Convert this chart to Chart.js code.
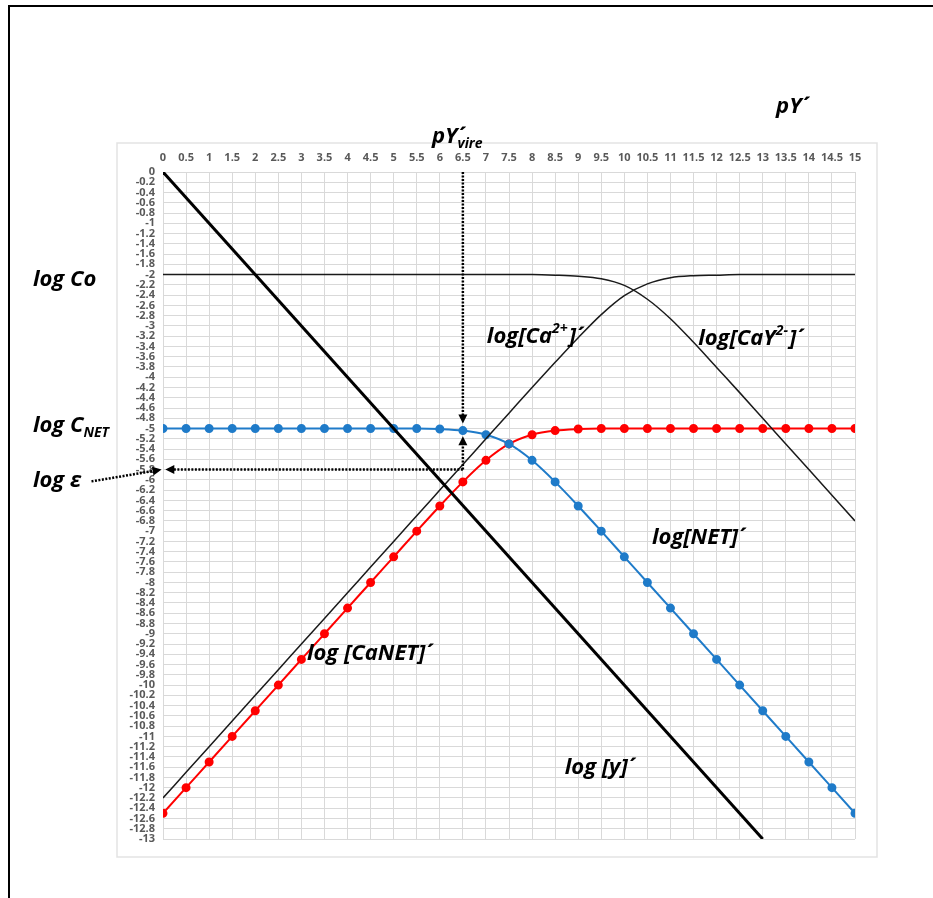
<!DOCTYPE html>
<html>
<head>
<meta charset="utf-8">
<script src="https://cdn.jsdelivr.net/npm/chart.js@4.4.0/dist/chart.umd.min.js"></script>
<style>
  html, body { margin: 0; padding: 0; background: #fff; overflow: hidden; }
  #frame { position: absolute; left: 8px; top: 5px; width: 960px; height: 960px; border: 2px solid #000; }
  canvas { position: absolute; left: 0; top: 0; }
</style>
</head>
<body>
<div id="frame"></div>
<canvas id="chart" width="933" height="898"></canvas>
<script>
// pY' values (x axis), one point every 0.5
const pY = [0, 0.5, 1, 1.5, 2, 2.5, 3, 3.5, 4, 4.5, 5, 5.5, 6, 6.5, 7, 7.5,
            8, 8.5, 9, 9.5, 10, 10.5, 11, 11.5, 12, 12.5, 13, 13.5, 14, 14.5, 15];

// log[NET]' (blue)
const logNET = [-5, -5, -5, -5, -5, -5, -5, -5, -5, -5, -5, -5, -5.01, -5.04, -5.12, -5.30,
                -5.62, -6.04, -6.51, -7.00, -7.50, -8.00, -8.50, -9.00, -9.50, -10.00, -10.50, -11.00, -11.50, -12.00, -12.50];

// log[CaNET]' (red)
const logCaNET = [-12.5, -12.0, -11.5, -11.0, -10.5, -10.0, -9.5, -9.0, -8.5, -8.0, -7.5, -7.0, -6.51, -6.04, -5.62, -5.30,
                  -5.12, -5.04, -5.01, -5, -5, -5, -5, -5, -5, -5, -5, -5, -5, -5, -5];

// log[Ca2+]' (thin black, rising)
const logCa = [-12.2, -11.7, -11.2, -10.7, -10.2, -9.7, -9.2, -8.7, -8.2, -7.7, -7.2, -6.7, -6.2, -5.7, -5.2, -4.7,
               -4.20, -3.71, -3.23, -2.78, -2.41, -2.18, -2.06, -2.02, -2.01, -2, -2, -2, -2, -2, -2];

// log[CaY2-]' (thin black, falling)
const logCaY = [-2, -2, -2, -2, -2, -2, -2, -2, -2, -2, -2, -2, -2, -2, -2, -2,
                -2.00, -2.01, -2.03, -2.08, -2.21, -2.48, -2.86, -3.32, -3.81, -4.30, -4.80, -5.30, -5.80, -6.30, -6.80];

// log[y]' (thick black straight line)
const logYx = [0, 13];
const logYy = [0, -13];

// reading of the end point
const pYvire = 6.5;
const logEps = -5.8;

const FONT = "'Open Sans', sans-serif";
const TICK_FONT = { family: "'Open Sans', sans-serif", size: 11, weight: 'bold' };
const GRID = '#d9d9d9';

const pts = (xs, ys) => xs.map((x, i) => ({ x: x, y: ys[i] }));

// text labels (data coordinates, left edge / vertical middle)
const labels = [
  { x: -2.82, y: -2.1, parts: [{ t: 'log Co' }] },
  { x: -2.82, y: -4.95, parts: [{ t: 'log C' }, { t: 'NET', sub: true }] },
  { x: -2.82, y: -6.02, parts: [{ t: 'log ε' }] },
  { x: 5.83, y: 0.68, parts: [{ t: 'pY' }, { t: '´' }, { t: 'vire', sub: true }] },
  { x: 13.29, y: 1.27, parts: [{ t: 'pY' }, { t: '´' }] },
  { x: 7.02, y: -3.22, parts: [{ t: 'log[Ca' }, { t: '2+', sup: true }, { t: ']´' }] },
  { x: 11.6, y: -3.24, parts: [{ t: 'log[CaY' }, { t: '2-', sup: true }, { t: ']´' }] },
  { x: 10.6, y: -7.13, parts: [{ t: 'log[NET]´' }] },
  { x: 3.12, y: -9.38, parts: [{ t: 'log [CaNET]´' }] },
  { x: 8.71, y: -11.62, parts: [{ t: 'log [y]´' }] }
];

function dotted(ctx, x1, y1, x2, y2) {
  ctx.save();
  ctx.strokeStyle = '#000';
  ctx.lineWidth = 2.5;
  ctx.setLineDash([2, 1.5]);
  ctx.beginPath();
  ctx.moveTo(x1, y1);
  ctx.lineTo(x2, y2);
  ctx.stroke();
  ctx.restore();
}

function arrow(ctx, tx, ty, dx, dy) {
  const len = 9, hw = 4.5;
  const bx = tx - dx * len, by = ty - dy * len;
  ctx.save();
  ctx.fillStyle = '#000';
  ctx.beginPath();
  ctx.moveTo(tx, ty);
  ctx.lineTo(bx - dy * hw, by + dx * hw);
  ctx.lineTo(bx + dy * hw, by - dx * hw);
  ctx.closePath();
  ctx.fill();
  ctx.restore();
}

// bold italic text with sub / superscripts
function rich(ctx, parts, px, py, size) {
  ctx.save();
  ctx.translate(px, py);
  if ('fontKerning' in ctx) ctx.fontKerning = 'none';
  let cx = 0;
  parts.forEach(p => {
    const small = p.sub || p.sup;
    const s = small ? Math.round(size * 0.62) : size;
    ctx.font = 'italic bold ' + s + 'px ' + FONT;
    const dy = p.sub ? size * 0.3 : p.sup ? -size * 0.35 : 0;
    ctx.fillText(p.t, cx, dy);
    cx += ctx.measureText(p.t).width + (small ? 1 : 0);
  });
  ctx.restore();
}

const decorations = {
  id: 'decorations',
  beforeDraw(chart) {
    const { ctx, chartArea: a } = chart;
    ctx.save();
    ctx.strokeStyle = '#e3e3e3';
    ctx.lineWidth = 1.5;
    ctx.strokeRect(a.left - 46, a.top - 29, a.right - a.left + 68, a.bottom - a.top + 47);
    ctx.restore();
  },
  afterDatasetsDraw(chart) {
    const { ctx, scales: { x, y } } = chart;
    const vx = x.getPixelForValue(pYvire);
    const ey = y.getPixelForValue(logEps);
    // vertical reading line at pY'vire
    dotted(ctx, vx, y.getPixelForValue(0), vx, y.getPixelForValue(-4.9) - 8);
    arrow(ctx, vx, y.getPixelForValue(-4.9), 0, 1);
    dotted(ctx, vx, ey, vx, y.getPixelForValue(-5.15) + 8);
    arrow(ctx, vx, y.getPixelForValue(-5.15), 0, -1);
    // horizontal line to log ε
    dotted(ctx, vx, ey, x.getPixelForValue(0.05) + 8, ey);
    arrow(ctx, x.getPixelForValue(0.05), ey, -1, 0);
    // pointer from the log ε label
    const sx = x.getPixelForValue(-1.55), sy = y.getPixelForValue(-6.03);
    const tx = x.getPixelForValue(-0.03);
    const ang = Math.atan2(ey - sy, tx - sx);
    dotted(ctx, sx, sy, tx - Math.cos(ang) * 8, ey - Math.sin(ang) * 8);
    arrow(ctx, tx, ey, Math.cos(ang), Math.sin(ang));

    ctx.save();
    ctx.fillStyle = '#000';
    ctx.textBaseline = 'middle';
    ctx.textAlign = 'left';
    labels.forEach(l => rich(ctx, l.parts, x.getPixelForValue(l.x), y.getPixelForValue(l.y), 22));
    ctx.restore();
  }
};

new Chart(document.getElementById('chart'), {
  type: 'line',
  data: {
    datasets: [
      {
        label: 'log[y]´',
        data: pts(logYx, logYy),
        borderColor: '#000',
        borderWidth: 3,
        pointRadius: 0
      },
      {
        label: 'log[Ca2+]´',
        data: pts(pY, logCa),
        borderColor: '#1a1a1a',
        borderWidth: 1.5,
        pointRadius: 0,
        cubicInterpolationMode: 'monotone'
      },
      {
        label: 'log[CaY2-]´',
        data: pts(pY, logCaY),
        borderColor: '#1a1a1a',
        borderWidth: 1.5,
        pointRadius: 0,
        cubicInterpolationMode: 'monotone'
      },
      {
        label: 'log[NET]´',
        data: pts(pY, logNET),
        borderColor: '#1f7bc9',
        backgroundColor: '#1f7bc9',
        borderWidth: 2,
        pointRadius: 3.5,
        cubicInterpolationMode: 'monotone'
      },
      {
        label: 'log[CaNET]´',
        data: pts(pY, logCaNET),
        borderColor: '#ff0000',
        backgroundColor: '#ff0000',
        borderWidth: 2,
        pointRadius: 3.5,
        cubicInterpolationMode: 'monotone'
      }
    ]
  },
  options: {
    responsive: false,
    animation: false,
    layout: { padding: { left: 113, right: 78, top: 142, bottom: 59 } },
    plugins: {
      legend: { display: false },
      tooltip: { enabled: false },
      title: { display: false }
    },
    scales: {
      x: {
        type: 'linear',
        position: 'top',
        min: 0,
        max: 15,
        afterFit: s => { s.height = 30; },
        ticks: {
          stepSize: 0.5,
          autoSkip: false,
          maxRotation: 0,
          padding: 8,
          color: '#595959',
          font: TICK_FONT,
          callback: v => String(Math.round(v * 10) / 10)
        },
        grid: { color: GRID, drawTicks: false },
        border: { color: GRID }
      },
      y: {
        type: 'linear',
        min: -13,
        max: 0,
        afterFit: s => { s.width = 50; },
        ticks: {
          stepSize: 0.2,
          autoSkip: false,
          padding: 8,
          color: '#595959',
          font: TICK_FONT,
          callback: v => String(Math.round(v * 10) / 10)
        },
        grid: { color: GRID, drawTicks: false },
        border: { color: GRID }
      }
    }
  },
  plugins: [decorations]
});
</script>
</body>
</html>
